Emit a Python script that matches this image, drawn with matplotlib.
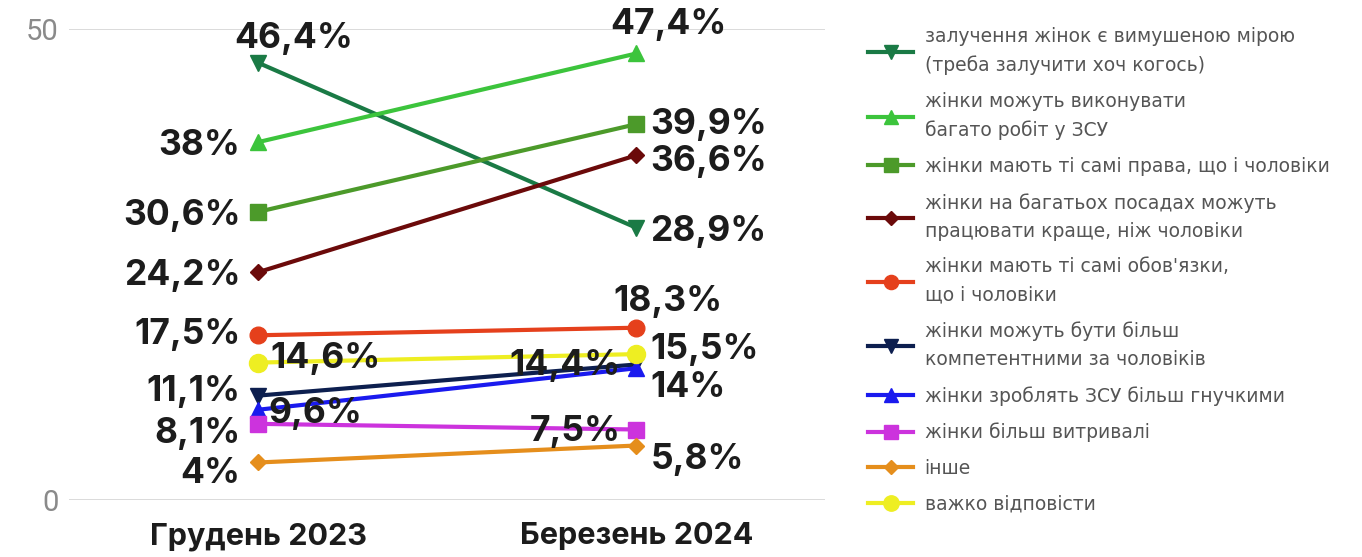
import matplotlib.pyplot as plt

plt.rcParams['font.family'] = ['Inter', 'DejaVu Sans']

periods = ['Грудень 2023', 'Березень 2024']

series_names = [
    'залучення жінок є вимушеною мірою\n(треба залучити хоч когось)',
    'жінки можуть виконувати\nбагато робіт у ЗСУ',
    'жінки мають ті самі права, що і чоловіки',
    'жінки на багатьох посадах можуть\nпрацювати краще, ніж чоловіки',
    "жінки мають ті самі обов'язки,\nщо і чоловіки",
    'жінки можуть бути більш\nкомпетентними за чоловіків',
    'жінки зроблять ЗСУ більш гнучкими',
    'жінки більш витривалі',
    'інше',
    'важко відповісти',
]
dec_2023 = [46.4, 38.0, 30.6, 24.2, 17.5, 11.1, 9.6, 8.1, 4.0, 14.6]
mar_2024 = [28.9, 47.4, 39.9, 36.6, 18.3, 14.4, 14.0, 7.5, 5.8, 15.5]
dec_labels = ['46,4%', '38%', '30,6%', '24,2%', '17,5%', '11,1%', '9,6%', '8,1%', '4%', '14,6%']
mar_labels = ['28,9%', '47,4%', '39,9%', '36,6%', '18,3%', '14,4%', '14%', '7,5%', '5,8%', '15,5%']

colors = ['#1a7a45', '#3cc43c', '#4c9a2a', '#6b0a0a', '#e5401c',
          '#0d1f4f', '#1a1aee', '#cc33dd', '#e58e1c', '#eeee22']
markers = ['v', '^', 's', 'D', 'o', 'v', '^', 's', 'D', 'o']
msizes = [12, 12, 12, 8, 12, 12, 12, 12, 8, 13]

# label offsets in pixels: (dx, dy, ha)
dec_off = [(35, 28, 'center'), (-18, 0, 'right'), (-18, 0, 'right'), (-18, 0, 'right'),
           (-18, 4, 'right'), (-18, 8, 'right'), (10, 0, 'left'), (-18, -6, 'right'),
           (-18, -8, 'right'), (12, 8, 'left')]
mar_off = [(14, 0, 'left'), (32, 32, 'center'), (14, 3, 'left'), (14, -3, 'left'),
           (32, 30, 'center'), (-16, 2, 'right'), (14, -16, 'left'), (-16, 2, 'right'),
           (14, -10, 'left'), (14, 8, 'left')]

fig = plt.figure(figsize=(13.62, 5.57), dpi=100)
ax = fig.add_axes([0.051, 0.102, 0.555, 0.846])

x = [0, 1]
handles = []
for i in range(len(series_names)):
    h, = ax.plot(x, [dec_2023[i], mar_2024[i]], color=colors[i], marker=markers[i],
                 markersize=msizes[i], linewidth=3, label=series_names[i], zorder=3)
    handles.append(h)
    for xi, val, lab, off in [(0, dec_2023[i], dec_labels[i], dec_off[i]),
                              (1, mar_2024[i], mar_labels[i], mar_off[i])]:
        ax.annotate(lab, (xi, val), xytext=(off[0], off[1]), textcoords='offset pixels',
                    ha=off[2], va='center_baseline', fontsize=25.5, fontweight='bold',
                    color='#1c1c1c', zorder=4)

ax.set_xlim(-0.5, 1.5)
ax.set_ylim(0, 50)
ax.set_yticks([0, 50])
ax.set_xticks(x)
ax.set_xticklabels(periods, fontsize=22, fontweight='bold', color='#1c1c1c')
ax.tick_params(axis='y', labelsize=21, labelcolor='#8a8a8a', length=0, pad=8)
for t in ax.get_yticklabels():
    t.set_family(['Roboto', 'DejaVu Sans'])
ax.tick_params(axis='x', length=0, pad=16)
ax.grid(axis='y', color='#d8d8d8', linewidth=1.3)
ax.set_axisbelow(True)
for s in ax.spines.values():
    s.set_visible(False)

leg = fig.legend(handles=handles, loc='upper left', bbox_to_anchor=(0.632, 0.965), frameon=False,
                 prop={'family': 'DejaVu Sans', 'size': 13.5}, labelcolor='#555555',
                 labelspacing=0.9, handlelength=2.4, handletextpad=0.6, markerscale=0.85,
                 borderaxespad=0)
for t in leg.get_texts():
    t.set_linespacing(1.6)

fig.savefig('out.png', dpi=100, facecolor='white')
